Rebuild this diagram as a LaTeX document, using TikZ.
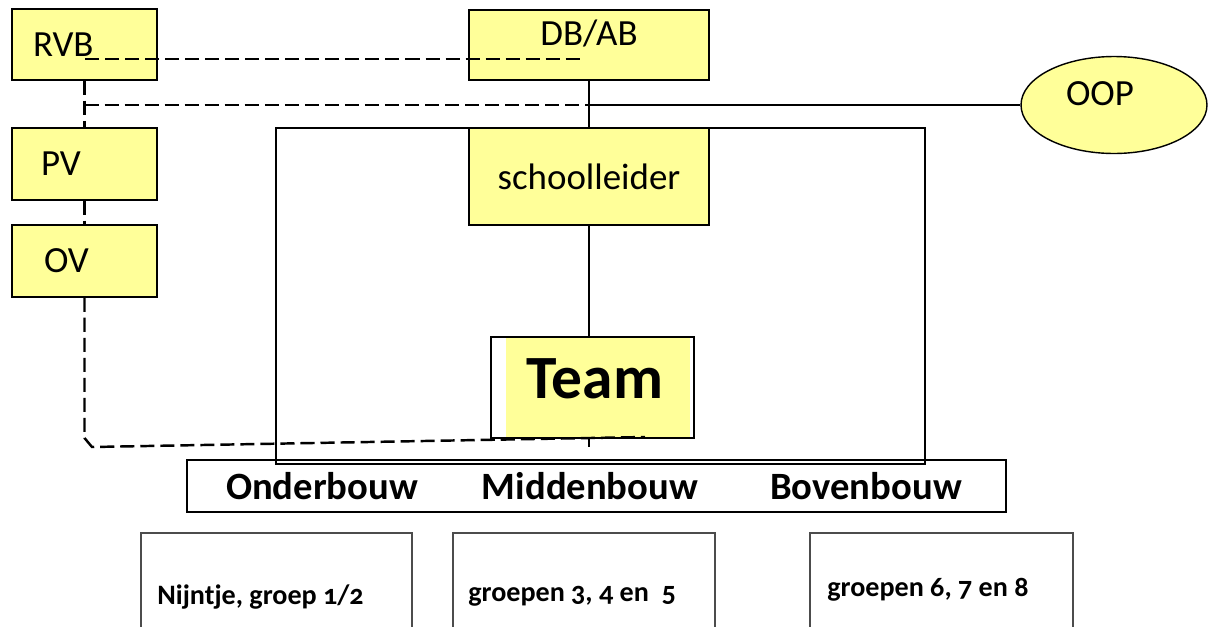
\documentclass[tikz,border=0pt]{standalone}
\usepackage{fontspec}
\setmainfont{Carlito}[Numbers=OldStyle]
\usetikzlibrary{shapes.geometric}
\definecolor{paleyellow}{RGB}{255,255,153}
\tikzset{
  ybox/.style={draw, fill=paleyellow, line width=0.8pt, inner sep=0pt, font=\fontsize{21}{25}\selectfont},
  dline/.style={dash pattern=on 8pt off 3.4pt, line width=1.4pt},
  sline/.style={line width=0.6pt},
  bouwtxt/.style={font=\bfseries\fontsize{22}{26}\selectfont},
  groeptxt/.style={anchor=base west, inner sep=0pt, font=\bfseries\fontsize{16}{20}\selectfont},
  gbox/.style={draw=black!70, line width=0.8pt}
}
\begin{document}
\begin{tikzpicture}[x=0.02cm, y=-0.02cm]
      \clip (0,0) rectangle (1210,626);
      \draw[line width=0.8pt] (276,128) rectangle (925,464);
      \fill[paleyellow] (506,338) rectangle (690,437);
      \node[ybox, minimum width=2.9cm, minimum height=1.42cm, text width=2.06cm, inner xsep=0.42cm, align=left] (rvb) at (84.5,44.5) {RVB};
      \node[ybox, minimum width=2.9cm, minimum height=1.44cm, text width=1.74cm, inner xsep=0.58cm, align=left] (pv) at (84.5,164) {PV};
      \node[ybox, minimum width=2.9cm, minimum height=1.44cm, text width=1.62cm, inner xsep=0.64cm, align=left] (ov) at (84.5,261) {OV};
      \node[ybox, minimum width=4.8cm, minimum height=1.4cm, text height=0.7cm, text depth=0.7cm] (dbab) at (589,45) {DB/AB};
      \node[ybox, minimum width=4.8cm, minimum height=1.94cm] (sl) at (589,176.5) {schoolleider};
      \node[ybox, ellipse, minimum width=3.72cm, minimum height=1.94cm, text width=1.92cm, align=left, text height=0.5cm, text depth=0.5cm] (oop) at (1114,105) {OOP};
      \node[draw, line width=0.8pt, minimum width=4.06cm, minimum height=2.02cm, text depth=0.34cm, font=\bfseries\fontsize{35}{40}\selectfont] (team) at (592.5,387.5) {\hspace{0.1cm}Team};
      \node[draw, line width=0.8pt, minimum width=16.38cm, minimum height=1.04cm, inner sep=0pt] (bouw) at (596.5,486) {};
      \node[bouwtxt] (ob) at (322,486) {Onderbouw};
      \node[bouwtxt] (mb) at (590,486) {Middenbouw};
      \node[bouwtxt] (bb) at (866,486) {Bovenbouw};
      \draw[gbox] (141,533) rectangle (412,650);
      \draw[gbox] (453,533) rectangle (715,650);
      \draw[gbox] (810,533) rectangle (1073,650);
      \node[groeptxt] (g1) at (157,604) {Nijntje, groep 1/2};
      \node[groeptxt] (g2) at (468,601) {groepen 3, 4 en\ \ 5};
      \node[groeptxt] (g3) at (827,596) {groepen 6, 7 en 8};
      \coordinate (r1) at (85,59);
      \coordinate (r2) at (583,59);
      \coordinate (p1) at (84.5,105);
      \coordinate (j1) at (589,105);
      \coordinate (c1) at (84.5,438);
      \coordinate (c2) at (92,447);
      \coordinate (c3) at (645,437);
      \coordinate (tb) at (589,447);
      \begin{scope}[sline]
        \draw (dbab) to (sl);
        \draw (j1) to (oop);
        \draw (sl.south) to (sl.south |- team.north);
        \draw (tb |- team.south) to (tb);
      \end{scope}
      \begin{scope}[dline]
        \draw (r1) to (r2);
        \draw (rvb) to (pv);
        \draw (p1) to (j1);
        \draw (pv) to (ov);
        \draw (ov) -- (c1) -- (c2) -- (c3);
      \end{scope}
    \end{tikzpicture}
\end{document}
